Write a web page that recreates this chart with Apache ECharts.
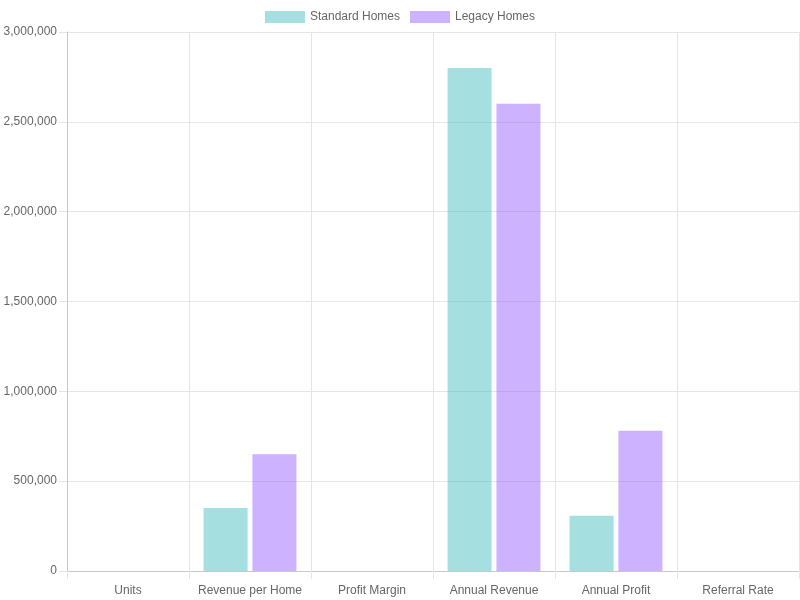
<!DOCTYPE html>
<html>
<head>
<meta charset="utf-8">
<script src="https://cdn.jsdelivr.net/npm/echarts@6/dist/echarts.min.js"></script>
<style>
  html, body { margin: 0; padding: 0; background: #fff; }
  #chart { width: 800px; height: 600px; }
</style>
</head>
<body>
<div id="chart"></div>
<script>
// categories and values
const categories = ['Units', 'Revenue per Home', 'Profit Margin', 'Annual Revenue', 'Annual Profit', 'Referral Rate']
const standardHomes = [8, 350000, 0.11, 2800000, 308000, 0.2]
const legacyHomes = [4, 650000, 0.3, 2600000, 780000, 0.5]
const yTicks = { min: 0, max: 3000000, interval: 500000 }

const chart = echarts.init(document.getElementById('chart'))

const font = 'Liberation Sans, Arial, sans-serif'
const gridColor = '#e5e5e5'

const options = {
  animation: false,
  textStyle: { fontFamily: font },
  legend: {
    top: 6,
    itemWidth: 40,
    itemHeight: 12,
    itemGap: 10,
    icon: 'rect',
    textStyle: { color: '#666', fontSize: 12, fontFamily: font },
    data: ['Standard Homes', 'Legacy Homes']
  },
  grid: { left: 67, right: 1, top: 32, bottom: 29 },
  xAxis: {
    type: 'category',
    data: categories,
    axisLine: { lineStyle: { color: '#c8c8c8' } },
    axisTick: { show: true, interval: 0, length: 8, lineStyle: { color: gridColor } },
    splitLine: { show: true, interval: 0, lineStyle: { color: gridColor } },
    axisLabel: { interval: 0, color: '#666', fontSize: 12, margin: 14, fontFamily: font }
  },
  yAxis: {
    type: 'value',
    min: yTicks.min,
    max: yTicks.max,
    interval: yTicks.interval,
    axisLine: { show: true, lineStyle: { color: '#c8c8c8' } },
    axisTick: { show: true, length: 8, lineStyle: { color: gridColor } },
    splitLine: { lineStyle: { color: gridColor } },
    axisLabel: {
      color: '#666',
      fontSize: 12,
      margin: 10,
      fontFamily: font,
      formatter: v => v.toLocaleString('en-US')
    }
  },
  series: [
    {
      name: 'Standard Homes',
      type: 'bar',
      barWidth: 44,
      barGap: '11%',
      itemStyle: { color: 'rgba(75,192,192,0.5)' },
      data: standardHomes
    },
    {
      name: 'Legacy Homes',
      type: 'bar',
      barWidth: 44,
      barGap: '11%',
      itemStyle: { color: 'rgba(153,102,255,0.5)' },
      data: legacyHomes
    }
  ]
}

chart.setOption(options)
</script>
</body>
</html>
